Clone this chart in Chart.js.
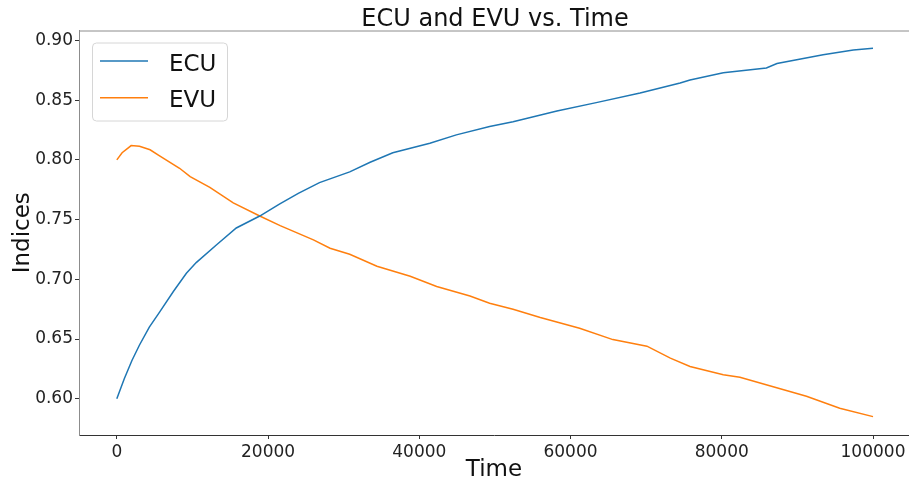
<!DOCTYPE html>
<html>
<head>
<meta charset="utf-8">
<script src="https://cdn.jsdelivr.net/npm/chart.js@4/dist/chart.umd.min.js"></script>
<style>
  html, body { margin: 0; padding: 0; background: #fff; }
  canvas { display: block; }
</style>
</head>
<body>
<canvas id="indexChart" width="909" height="485"></canvas>
<script>
// values
const ecuTime = [0, 1000, 2000, 3000, 4300, 5700, 7500, 9200, 10500, 13200, 15800, 18900, 21500, 24000, 26800, 30800, 33500, 36500, 41400, 44900, 49300, 52400, 58200, 63400, 69200, 74500, 75800, 80200, 85900, 87300, 93400, 97400, 100000];
const ecuValues = [0.600, 0.617, 0.632, 0.645, 0.660, 0.673, 0.690, 0.705, 0.714, 0.729, 0.743, 0.753, 0.763, 0.772, 0.781, 0.790, 0.798, 0.806, 0.814, 0.821, 0.828, 0.832, 0.841, 0.848, 0.856, 0.8645, 0.867, 0.873, 0.877, 0.8807, 0.888, 0.892, 0.8935];

const evuTime = [0, 700, 1900, 3000, 4400, 5500, 8300, 9700, 12300, 15400, 18900, 21600, 26000, 28200, 30800, 34400, 38800, 42300, 46700, 49300, 52400, 56000, 61200, 65600, 70100, 73200, 75800, 80200, 82400, 86800, 91200, 95600, 100000];
const evuValues = [0.800, 0.806, 0.812, 0.8115, 0.8085, 0.804, 0.793, 0.786, 0.777, 0.764, 0.753, 0.745, 0.733, 0.726, 0.721, 0.711, 0.7025, 0.694, 0.686, 0.680, 0.675, 0.668, 0.659, 0.6495, 0.644, 0.634, 0.627, 0.620, 0.618, 0.610, 0.602, 0.592, 0.585];

const xTicks = [0, 20000, 40000, 60000, 80000, 100000];
const yTicks = [0.60, 0.65, 0.70, 0.75, 0.80, 0.85, 0.90];
const chartTitle = 'ECU and EVU vs. Time';

const FONT = "'DejaVu Sans', sans-serif";

function toPoints(xs, ys) {
    return xs.map((x, i) => ({ x: x, y: ys[i] }));
}

// title over the axes, top spine, matplotlib style legend box
const frameAndLegend = {
    id: 'frameAndLegend',
    afterDraw(chart) {
        const ctx = chart.ctx;
        const area = chart.chartArea;
        ctx.save();
        ctx.strokeStyle = '#8c8c8c';
        ctx.lineWidth = 1;
        ctx.beginPath();
        ctx.moveTo(area.left, area.top + 0.5);
        ctx.lineTo(area.right, area.top + 0.5);
        ctx.stroke();

        ctx.fillStyle = '#111';
        ctx.font = '24px ' + FONT;
        ctx.textAlign = 'center';
        ctx.textBaseline = 'alphabetic';
        ctx.fillText(chartTitle, (area.left + 911) / 2, area.top - 4.5);

        const bx = area.left + 13, by = area.top + 12, bw = 135, bh = 78;
        ctx.fillStyle = 'rgba(255,255,255,0.8)';
        ctx.strokeStyle = '#d6d6d6';
        ctx.beginPath();
        ctx.roundRect(bx + 0.5, by + 0.5, bw, bh, 4);
        ctx.fill();
        ctx.stroke();

        ctx.font = '23px ' + FONT;
        ctx.textAlign = 'left';
        chart.data.datasets.forEach((ds, i) => {
            const ly = by + 18.5 + i * 36.7;
            ctx.strokeStyle = ds.borderColor;
            ctx.lineWidth = 1.5;
            ctx.beginPath();
            ctx.moveTo(bx + 8, ly);
            ctx.lineTo(bx + 56, ly);
            ctx.stroke();
            ctx.fillStyle = '#111';
            ctx.fillText(ds.label, bx + 77, ly + 9.5);
        });
        ctx.restore();
    }
};

new Chart(document.getElementById('indexChart'), {
    type: 'line',
    data: {
        datasets: [{
            label: 'ECU',
            data: toPoints(ecuTime, ecuValues),
            borderColor: '#1f77b4',
            borderWidth: 1.5,
            pointRadius: 0,
            tension: 0,
            fill: false
        }, {
            label: 'EVU',
            data: toPoints(evuTime, evuValues),
            borderColor: '#ff7f0e',
            borderWidth: 1.5,
            pointRadius: 0,
            tension: 0,
            fill: false
        }]
    },
    options: {
        responsive: false,
        animation: false,
        devicePixelRatio: 1,
        layout: { padding: { left: 0, right: 0, top: 30.5, bottom: 0 } },
        plugins: {
            legend: { display: false },
            tooltip: { enabled: false },
            title: { display: false }
        },
        scales: {
            x: {
                type: 'linear',
                min: -5000,
                max: 104760,
                afterBuildTicks(scale) {
                    scale.ticks = xTicks.map(v => ({ value: v }));
                },
                afterFit(scale) { scale.height = 50; },
                ticks: {
                    color: '#222',
                    font: { family: FONT, size: 17 },
                    padding: 3,
                    maxRotation: 0,
                    callback: v => String(v)
                },
                grid: { drawOnChartArea: false, drawTicks: true, tickLength: 4, tickColor: '#333' },
                border: { display: true, color: '#333', width: 1 },
                title: {
                    display: true,
                    text: 'Time',
                    color: '#111',
                    font: { family: FONT, size: 23 },
                    padding: { top: 0, bottom: 1 }
                }
            },
            y: {
                min: 0.5696,
                max: 0.9084,
                afterBuildTicks(scale) {
                    scale.ticks = yTicks.map(v => ({ value: v }));
                },
                afterFit(scale) { scale.width = 79; },
                ticks: {
                    color: '#222',
                    font: { family: FONT, size: 17 },
                    padding: 2,
                    callback: v => v.toFixed(2)
                },
                grid: { drawOnChartArea: false, drawTicks: true, tickLength: 4, tickColor: '#333' },
                border: { display: true, color: '#8c8c8c', width: 1 },
                title: {
                    display: true,
                    text: 'Indices',
                    color: '#111',
                    font: { family: FONT, size: 23 },
                    padding: { top: 9, bottom: 0 }
                }
            }
        }
    },
    plugins: [frameAndLegend]
});
</script>
</body>
</html>
